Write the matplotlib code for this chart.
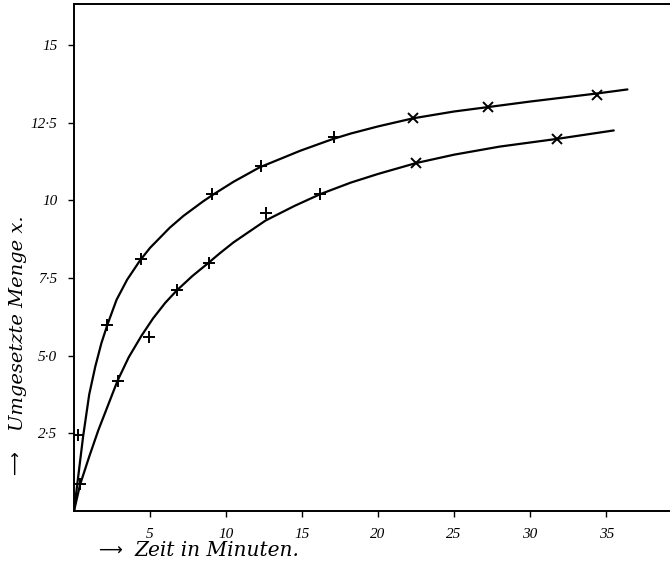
import matplotlib
matplotlib.use("Agg")
import matplotlib.pyplot as plt

# measured points (time in minutes, converted amount x)
upper_t = [0.25, 2.2, 4.4, 9.1, 12.3, 17.1, 22.3, 27.2, 34.4]
upper_x = [2.45, 6.0, 8.1, 10.2, 11.1, 12.05, 12.65, 13.0, 13.4]
lower_t = [0.4, 2.9, 4.9, 6.8, 8.9, 12.6, 16.2, 22.5, 31.8]
lower_x = [0.87, 4.2, 5.6, 7.1, 7.97, 9.6, 10.2, 11.2, 11.96]

# hand-drawn curves
upper_curve_t = [0, 0.6, 1.0, 1.4, 1.8, 2.2, 2.8, 3.5, 4.35, 5.0, 5.7, 6.3, 7.2, 8.5, 9.2,
                 10.5, 12.2, 14.9, 17.0, 18.2, 20.0, 22.3, 25.0, 27.2, 30.0, 34.4, 36.4]
upper_curve_x = [0, 2.4, 3.75, 4.65, 5.4, 6.0, 6.8, 7.45, 8.07, 8.47, 8.82, 9.12, 9.5, 9.97, 10.2,
                 10.6, 11.06, 11.6, 11.97, 12.15, 12.38, 12.64, 12.86, 13.0, 13.18, 13.44, 13.57]
lower_curve_t = [0, 0.4, 1.0, 1.6, 2.37, 2.87, 3.6, 4.45, 5.2, 6.0, 6.76, 7.8, 8.8, 9.6,
                 10.5, 12.6, 14.5, 16.2, 18.2, 20.0, 22.5, 25.0, 28.0, 31.8, 35.5]
lower_curve_x = [0, 0.85, 1.75, 2.6, 3.57, 4.2, 4.95, 5.65, 6.2, 6.7, 7.1, 7.57, 7.97, 8.3,
                 8.65, 9.35, 9.82, 10.2, 10.57, 10.85, 11.2, 11.47, 11.73, 11.98, 12.25]

xticks = [5, 10, 15, 20, 25, 30, 35]
yticks = [2.5, 5.0, 7.5, 10, 12.5, 15]
ytick_labels = ["2·5", "5·0", "7·5", "10", "12·5", "15"]

SERIF = ["Liberation Serif", "DejaVu Serif"]
LABEL = ["DejaVu Serif"]

fig = plt.figure(figsize=(6.7, 5.75), dpi=100)
ax = fig.add_axes([74 / 670, 1 - 511 / 575, 1 - 74 / 670, 507 / 575])

ax.plot(upper_curve_t, upper_curve_x, color="black", lw=1.6, solid_capstyle="round",
        solid_joinstyle="round")
ax.plot(lower_curve_t, lower_curve_x, color="black", lw=1.6, solid_capstyle="round",
        solid_joinstyle="round")

for ts, xs in ((upper_t, upper_x), (lower_t, lower_x)):
    for t, x in zip(ts, xs):
        m = "x" if t > 20 else "+"
        ax.plot(t, x, marker=m, color="black", ms=9 if m == "+" else 7, mew=1.4)

ax.set_xlim(0, 39.2)
ax.set_ylim(0, 16.32)
ax.spines["right"].set_visible(False)
for s in ("left", "bottom", "top"):
    ax.spines[s].set_linewidth(1.4)

ax.set_xticks(xticks)
ax.set_xticklabels([str(v) for v in xticks], family=SERIF, style="italic", fontsize=11)
ax.set_yticks(yticks)
ax.set_yticklabels(ytick_labels, family=SERIF, style="italic", fontsize=11)
ax.tick_params(direction="out", length=4, width=1, pad=8)

fig.text(18 / 670, 1 - 323 / 575, "Umgesetzte Menge x.", rotation=90, ha="center", va="center",
         family=LABEL, style="italic", fontsize=14)
fig.text(16 / 670, 1 - 463 / 575, "⟶", rotation=90, ha="center", va="center",
         family=["DejaVu Sans"], fontsize=12)
fig.text(110 / 670, 1 - 551 / 575, "⟶", ha="center", va="center",
         family=["DejaVu Sans"], fontsize=12)
fig.text(135 / 670, 1 - 551 / 575, "Zeit in Minuten.", ha="left", va="center",
         family=LABEL, style="italic", fontsize=14.5)

fig.savefig("out.png", dpi=100)
